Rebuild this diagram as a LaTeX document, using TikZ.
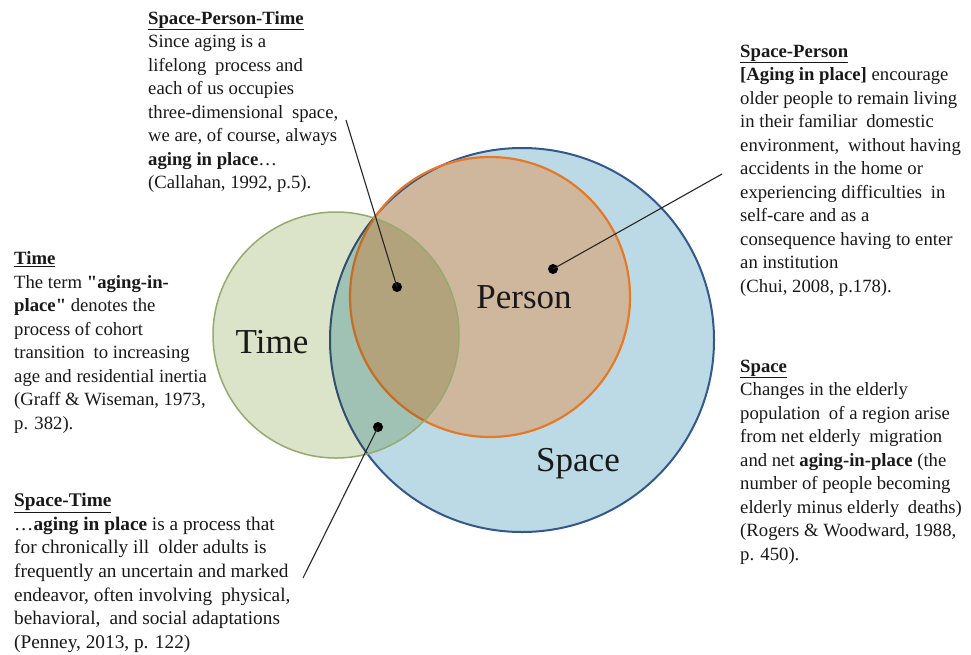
\documentclass[tikz,border=0pt]{standalone}
\usepackage{fontspec}
\setmainfont{Liberation Serif}
\newfontfamily\nomapfont{Liberation Serif}[Ligatures=TeXOff]
\definecolor{spacefill}{RGB}{188,218,230}
\definecolor{spaceline}{RGB}{52,88,140}
\definecolor{personfill}{RGB}{206,183,157}
\definecolor{personline}{RGB}{228,122,40}
\definecolor{timefill}{RGB}{219,227,200}
\definecolor{timeline}{RGB}{150,170,112}
\definecolor{tsfill}{RGB}{160,194,180}
\definecolor{tpfill}{RGB}{178,163,124}
\definecolor{spacelineT}{RGB}{48,80,112}
\definecolor{personlineT}{RGB}{196,110,35}
\definecolor{txt}{RGB}{25,25,25}
\newcommand{\wsp}{\hspace{0.22em}}
\newcommand{\sq}{{\nomapfont\bfseries\char34}}
\tikzset{
  quote/.style={anchor=north west, inner sep=0pt, align=left, text=txt,
    font=\fontsize{18.7pt}{23.5pt}\selectfont},
  biglabel/.style={inner sep=0pt, text=txt, font=\fontsize{35pt}{40pt}\selectfont},
  dotmark/.style={circle, fill=black, inner sep=0pt, minimum size=10pt},
  leader/.style={draw=black!85, line width=1.1pt}
}
\begin{document}
\begin{tikzpicture}[x=1pt,y=-1pt]
\useasboundingbox (0,0) rectangle (971,654);
\fill[white] (0,0) rectangle (971,654);
% circles
\fill[spacefill] (522,340) circle[radius=192pt];
\fill[personfill] (490,297) circle[radius=140pt];
\draw[spaceline, line width=2pt] (522,340) circle[radius=192pt];
\draw[personline, line width=2.2pt] (490,297) circle[radius=140pt];
\fill[timefill] (336,335) circle[radius=123pt];
\begin{scope}
  \clip (336,335) circle[radius=123pt];
  \fill[tsfill] (522,340) circle[radius=192pt];
  \fill[tpfill] (490,297) circle[radius=140pt];
  \draw[spacelineT, line width=2pt] (522,340) circle[radius=192pt];
  \draw[personlineT, line width=2.2pt] (490,297) circle[radius=140pt];
\end{scope}
\draw[timeline, line width=1.5pt] (336,335) circle[radius=123pt];
% big labels
\node[biglabel] (ltime) at (272,342) {Time};
\node[biglabel] (lperson) at (524,297) {Person};
\node[biglabel] (lspace) at (578,464) {Space};
% dots
\node[dotmark] (dspt) at (397,287) {};
\node[dotmark] (dsp) at (553,269) {};
\node[dotmark] (dst) at (378,427) {};
% leader ends
\coordinate (espt) at (346,120);
\coordinate (esp) at (722,174);
\coordinate (est) at (303,578);
\draw[leader] (espt) -- (dspt.center);
\draw[leader] (esp) -- (dsp.center);
\draw[leader] (est) -- (dst.center);
% texts
\node[quote] (tspt) at (148,11) {\underline{\textbf{Space-Person-Time}}\\
Since aging is a\\
lifelong \wsp process and\\
each of us occupies\\
three-dimensional \wsp space,\\
we are, of course, always\\
\textbf{aging in place}…\\
(Callahan, 1992, p.5).};
\node[quote] (tsp) at (740,44.5) {\underline{\textbf{Space-Person}}\\
\textbf{[Aging in place]} encourage\\
older people to remain living\\
in their familiar \wsp domestic\\
environment, \wsp without having\\
accidents in the home or\\
experiencing difficulties \wsp in\\
self-care and as a\\
consequence having to enter\\
an institution\\
(Chui, 2008, p.178).};
\node[quote] (ttime) at (14,251.5) {\underline{\textbf{Time}}\\
The term \sq\textbf{aging-in-}\\
\textbf{place}\sq{} denotes the\\
process of cohort\\
transition \wsp to increasing\\
age and residential inertia\\
(Graff \& Wiseman, 1973,\\
p. 382).};
\node[quote] (tspace) at (740,359.5) {\underline{\textbf{Space}}\\
Changes in the elderly\\
population \wsp of a region arise\\
from net elderly \wsp migration\\
and net \textbf{aging-in-place} (the\\
number of people becoming\\
elderly minus elderly \wsp deaths)\\
(Rogers \& Woodward, 1988,\\
p. 450).};
\node[quote, font=\fontsize{19.3pt}{23.6pt}\selectfont] (tst) at (14,493) {\underline{\textbf{Space-Time}}\\
…\textbf{aging in place} is a process that\\
for chronically ill \wsp older adults is\\
frequently an uncertain and marked\\
endeavor, often involving \wsp physical,\\
behavioral, \wsp and social adaptations\\
(Penney, 2013, p. 122)};
\end{tikzpicture}
\end{document}
